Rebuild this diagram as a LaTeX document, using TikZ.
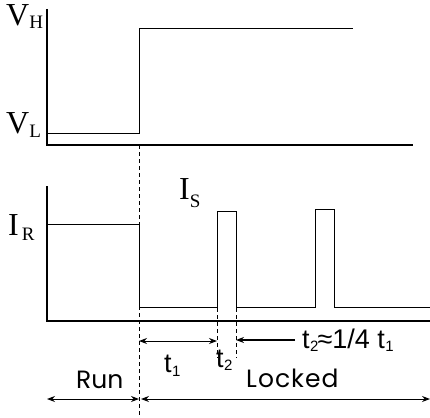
\documentclass[tikz,border=0pt]{standalone}
\usepackage{fontspec}
\setmainfont{Liberation Serif}
\newfontfamily\geo{Poppins}
\newfontfamily\geowide[LetterSpace=4]{Poppins}
\newfontfamily\ari{Liberation Sans}
\usetikzlibrary{arrows.meta}
\newcommand{\bigf}{\fontsize{32}{32}\selectfont}
\newcommand{\subf}{\fontsize{19}{19}\selectfont}
\newcommand{\tf}{\ari\fontsize{27}{27}\selectfont}
\newcommand{\tsub}{\ari\fontsize{15}{15}\selectfont}
\begin{document}
\begin{tikzpicture}[x=1pt,y=-1pt,
  wave/.style={line width=1pt,line join=miter},
  axis/.style={line width=1.1pt},
  guide/.style={line width=0.8pt,dash pattern=on 4pt off 3pt},
  dim/.style={line width=1pt,{Stealth[length=8pt,width=6pt]}-{Stealth[length=8pt,width=6pt]}},
  onearrow/.style={line width=1.4pt,-{Stealth[length=8pt,width=6pt]}},
  lbl/.style={inner sep=0pt,anchor=base west}]
\useasboundingbox (0,0) rectangle (430,417);
% top axes
\coordinate (ta) at (47,9);
\coordinate (to) at (47,145);
\coordinate (te) at (413,145);
\draw[axis] (ta) -- (to) -- (te);
% voltage waveform
\coordinate (v0) at (47,133);
\coordinate (v1) at (139,133);
\coordinate (v2) at (139,29);
\coordinate (v3) at (353,29);
\draw[wave] (v0) -- (v1) -- (v2) -- (v3);
% bottom axes
\coordinate (ba) at (47,186);
\coordinate (bo) at (47,321);
\coordinate (be) at (430,321);
\draw[axis] (ba) -- (bo) -- (be);
% current waveform
\draw[wave] (47,224) -- (139,224) -- (139,307) -- (217,307) -- (217,211) -- (236,211)
  -- (236,307) -- (315,307) -- (315,209) -- (334,209) -- (334,307) -- (430,307);
% guides
\coordinate (g0a) at (139,145);
\coordinate (g0b) at (139,417);
\coordinate (g1a) at (217,308);
\coordinate (g1b) at (217,358);
\coordinate (g2a) at (236,308);
\coordinate (g2b) at (236,358);
\draw[guide] (g0a) -- (g0b);
\draw[guide] (g1a) -- (g1b);
\draw[guide] (g2a) -- (g2b);
% dimension arrows
\coordinate (d1a) at (139,341);
\coordinate (d1b) at (217,341);
\draw[dim] (d1a) -- (d1b);
\coordinate (d2a) at (295,340);
\coordinate (d2b) at (236,340);
\draw[onearrow] (d2a) -- (d2b);
\coordinate (r1) at (47,399);
\coordinate (r2) at (139,399);
\draw[dim] (r1) -- (r2);
\coordinate (l1) at (141,399);
\coordinate (l2) at (430,399);
\draw[dim] (l1) -- (l2);
% labels
\node[lbl] (vh) at (6,26) {\bigf V\kern0pt\raisebox{-3pt}{\subf H}};
\node[lbl] (vl) at (6,133) {\bigf V\kern0pt\raisebox{-4pt}{\subf L}};
\node[lbl] (ir) at (8,235) {\bigf I\kern3pt\raisebox{-5pt}{\subf R}};
\node[lbl] (is) at (179,199) {\bigf I\kern0pt\raisebox{-8pt}{\subf S}};
\node[lbl] (t1) at (164,372) {\tf t\kern0.5pt\raisebox{-4pt}{\tsub 1}};
\node[lbl] (t2) at (216,367) {\tf t\kern0.5pt\raisebox{-3pt}{\tsub 2}};
\node[lbl] (rel) at (302,348) {\tf t\kern0.5pt\raisebox{-3pt}{\tsub 2}\kern-1pt≈1/4 t\kern0.5pt\raisebox{-3pt}{\tsub 1}};
\node[lbl] (run) at (76,388) {\geo\fontsize{25}{25}\selectfont Run};
\node[lbl] (lock) at (246,387) {\geowide\fontsize{25}{25}\selectfont Locked};
\end{tikzpicture}
\end{document}
